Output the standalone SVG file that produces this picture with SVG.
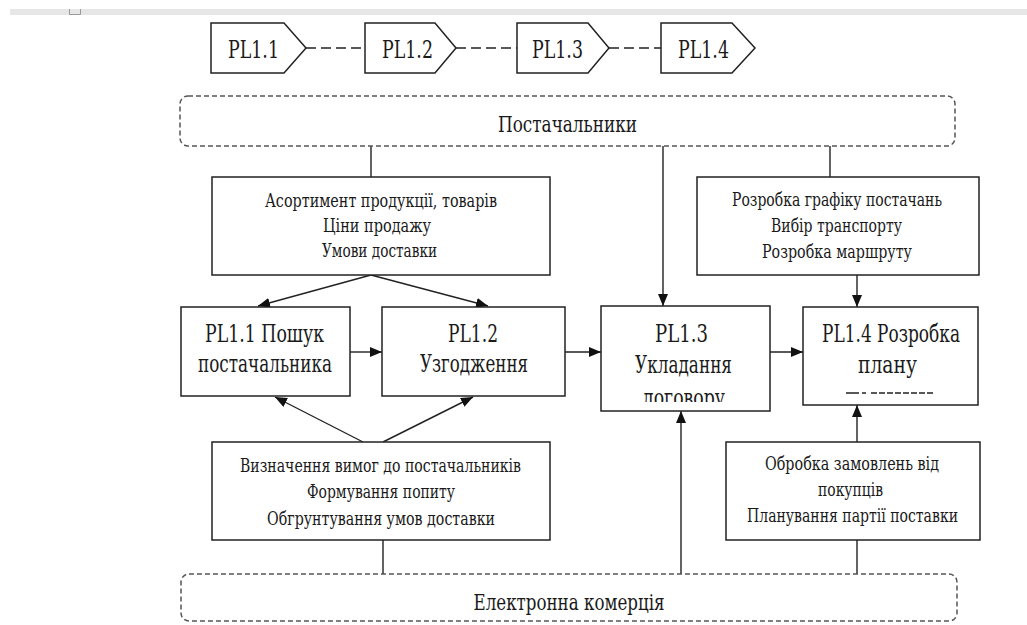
<svg xmlns="http://www.w3.org/2000/svg" width="1027" height="625" viewBox="0 0 1027 625">
<style>
.bg{fill:#ffffff}
.box{fill:#ffffff;stroke:#222;stroke-width:1.5}
.dbox{fill:#ffffff;stroke:#555;stroke-width:1.5;stroke-dasharray:5 3}
text{font-family:"DejaVu Serif", "Liberation Serif", serif;fill:#1a1a1a;text-anchor:middle}
.s19{font-size:18px}
.s24{font-size:22px}
.s26{font-size:24px}
.ln{fill:none;stroke:#222;stroke-width:1.4}
.dl{fill:none;stroke:#222;stroke-width:1.4;stroke-dasharray:10 5}
</style>
<defs>
<marker id="arr" markerUnits="userSpaceOnUse" markerWidth="13" markerHeight="11" refX="12" refY="5" orient="auto">
<path d="M0,0 L12,5 L0,10 z" fill="#111"/>
</marker>
<clipPath id="clip13"><rect x="601" y="306" width="169" height="96"/></clipPath>
</defs>
<rect class="bg" x="0" y="0" width="1027" height="625"/>
<rect x="10" y="9" width="1017" height="6" fill="#e6e6e6"/>
<path d="M69.5,9 V14.5 H80.5 V9" fill="none" stroke="#999" stroke-width="1"/>

<g id="connectors">
<path class="dl" d="M306,48 H365"/>
<path class="dl" d="M456,48 H517"/>
<path class="dl" d="M609,48 H661"/>
<path class="ln" d="M371,146 V177"/>
<path class="ln" d="M663,146 V306" marker-end="url(#arr)"/>
<path class="ln" d="M830,146 V177"/>
<path class="ln" d="M857,275 V307" marker-end="url(#arr)"/>
<path class="ln" d="M371,275 L258,306" marker-end="url(#arr)"/>
<path class="ln" d="M371,275 L488,306" marker-end="url(#arr)"/>
<path class="ln" d="M350,352 H382" marker-end="url(#arr)"/>
<path class="ln" d="M565,352 H601" marker-end="url(#arr)"/>
<path class="ln" d="M770,352 H803" marker-end="url(#arr)"/>
<path class="ln" d="M363,442 L275,397" marker-end="url(#arr)"/>
<path class="ln" d="M383,442 L473,397" marker-end="url(#arr)"/>
<path class="ln" d="M383,540 V574"/>
<path class="ln" d="M681,574 V411" marker-end="url(#arr)"/>
<path class="ln" d="M857,442 V405" marker-end="url(#arr)"/>
<path class="ln" d="M857,540 V574"/>
</g>

<g id="tag-pl11">
<path class="box" d="M211,23 H284 L306,48 L284,73 H211 Z"/>
<text class="s26" x="253.5" y="58" textLength="51" lengthAdjust="spacingAndGlyphs">PL1.1</text>
</g>
<g id="tag-pl12">
<path class="box" d="M365,23 H435 L456,48 L435,73 H365 Z"/>
<text class="s26" x="407.5" y="58" textLength="51" lengthAdjust="spacingAndGlyphs">PL1.2</text>
</g>
<g id="tag-pl13">
<path class="box" d="M517,23 H588 L609,48 L588,73 H517 Z"/>
<text class="s26" x="557.5" y="58" textLength="51" lengthAdjust="spacingAndGlyphs">PL1.3</text>
</g>
<g id="tag-pl14">
<path class="box" d="M661,23 H732 L755,48 L732,73 H661 Z"/>
<text class="s26" x="703.5" y="58" textLength="51" lengthAdjust="spacingAndGlyphs">PL1.4</text>
</g>

<g id="suppliers">
<rect class="dbox" x="180" y="96" width="775" height="50" rx="8"/>
<text class="s24" x="567.5" y="132" textLength="139" lengthAdjust="spacingAndGlyphs">Постачальники</text>
</g>

<g id="ecommerce">
<rect class="dbox" x="181" y="574" width="776" height="47" rx="8"/>
<text class="s24" x="569" y="610" textLength="191" lengthAdjust="spacingAndGlyphs">Електронна комерція</text>
</g>

<g id="box-assortment">
<rect class="box" x="212" y="177" width="338" height="98"/>
<text class="s19" x="381" y="207" textLength="232" lengthAdjust="spacingAndGlyphs">Асортимент продукції, товарів</text>
<text class="s19" x="377" y="232" textLength="108" lengthAdjust="spacingAndGlyphs">Ціни продажу</text>
<text class="s19" x="379.5" y="257" textLength="115" lengthAdjust="spacingAndGlyphs">Умови доставки</text>
</g>

<g id="box-schedule">
<rect class="box" x="697" y="177" width="282" height="98"/>
<text class="s19" x="837" y="206" textLength="210" lengthAdjust="spacingAndGlyphs">Розробка графіку постачань</text>
<text class="s19" x="836.5" y="232" textLength="131" lengthAdjust="spacingAndGlyphs">Вибір транспорту</text>
<text class="s19" x="837" y="258" textLength="150" lengthAdjust="spacingAndGlyphs">Розробка маршруту</text>
</g>

<g id="pl11">
<rect class="box" x="181" y="307" width="169" height="89"/>
<text class="s26" x="264.5" y="342" textLength="119" lengthAdjust="spacingAndGlyphs">PL1.1 Пошук</text>
<text class="s26" x="265" y="372" textLength="134" lengthAdjust="spacingAndGlyphs">постачальника</text>
</g>

<g id="pl12">
<rect class="box" x="382" y="307" width="183" height="89"/>
<text class="s26" x="473" y="342" textLength="50" lengthAdjust="spacingAndGlyphs">PL1.2</text>
<text class="s26" x="474" y="372" textLength="108" lengthAdjust="spacingAndGlyphs">Узгодження</text>
</g>

<g id="pl13">
<rect class="box" x="601" y="306" width="169" height="105"/>
<text class="s26" x="681.5" y="342" textLength="53" lengthAdjust="spacingAndGlyphs">PL1.3</text>
<text class="s26" x="683.5" y="373" textLength="97" lengthAdjust="spacingAndGlyphs">Укладання</text>
<text class="s26" x="684" y="406" textLength="82" lengthAdjust="spacingAndGlyphs" clip-path="url(#clip13)">договору</text>
</g>

<g id="pl14">
<rect class="box" x="803" y="307" width="175" height="98"/>
<text class="s26" x="891" y="342" textLength="138" lengthAdjust="spacingAndGlyphs">PL1.4 Розробка</text>
<text class="s26" x="887.5" y="373" textLength="59" lengthAdjust="spacingAndGlyphs">плану</text>
<path d="M846,393 H859 M862,393 H866 M871,393 H877 M879,393 H885 M887,393 H893 M895,393 H901 M903,393 H909 M911,393 H917 M919,393 H925 M927,393 H933" fill="none" stroke="#222" stroke-width="1.3"/>
</g>

<g id="box-requirements">
<rect class="box" x="212" y="442" width="338" height="98"/>
<text class="s19" x="380.5" y="472" textLength="281" lengthAdjust="spacingAndGlyphs">Визначення вимог до постачальників</text>
<text class="s19" x="381" y="498" textLength="148" lengthAdjust="spacingAndGlyphs">Формування попиту</text>
<text class="s19" x="381" y="525" textLength="228" lengthAdjust="spacingAndGlyphs">Обгрунтування умов доставки</text>
</g>

<g id="box-orders">
<rect class="box" x="726" y="442" width="254" height="98"/>
<text class="s19" x="852" y="470" textLength="174" lengthAdjust="spacingAndGlyphs">Обробка замовлень від</text>
<text class="s19" x="850.5" y="496" textLength="65" lengthAdjust="spacingAndGlyphs">покупців</text>
<text class="s19" x="852.5" y="522" textLength="211" lengthAdjust="spacingAndGlyphs">Планування партії поставки</text>
</g>
</svg>
